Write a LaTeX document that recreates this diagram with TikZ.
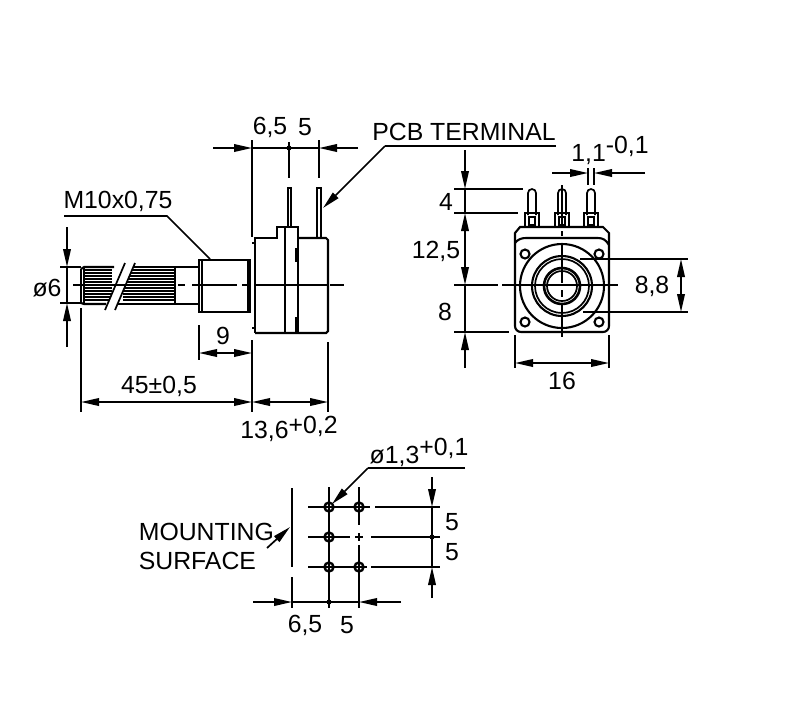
\documentclass[tikz,border=0pt]{standalone}
\usepackage{fontspec}
\setmainfont{Liberation Sans}
\usetikzlibrary{arrows.meta}
\tikzset{
  dimtext/.style={inner sep=0pt, font=\fontsize{12.4}{14.5}\selectfont},
  part/.style={line width=1.05pt},
  hatch/.style={line width=0.8pt},
  centre/.style={line width=0.95pt},
}
\begin{document}
\begin{tikzpicture}[x=0.5pt, y=-0.5pt, line width=0.85pt, >={Triangle[length=9pt,width=3.8pt]}]
\useasboundingbox (0,0) rectangle (797,720);
% side view, shaft
\foreach \yy in {270,273,...,302} {
  \draw[hatch] (84,\yy) -- (112,\yy);
  \draw[hatch] (123,\yy) -- (175,\yy);
}
\draw[part] (81,269) -- (84,267) -- (114,267);
\draw[part] (124,267) -- (199,267);
\draw[part] (81,303) -- (84,304) -- (106,304);
\draw[part] (117,304) -- (199,304);
\draw[part] (81,269) -- (81,303);
\draw[part] (84,267) -- (84,304);
\draw[part] (175,267) -- (175,304);
\draw[fill=white, draw=none] (105,310) -- (125,263) -- (135,263) -- (115,310) -- cycle;
\draw (105,310) -- (125,263);
\draw (115,310) -- (135,263);
% side view, bushing
\draw[part] (199,260) rectangle (250,312);
\draw (202,260) -- (202,312);
\draw (248,261) -- (248,312);
% side view, body
\draw[part] (252,243) -- (255,243);
\draw[part] (252,328) -- (255,328);
\draw[part] (255,333) -- (255,238) -- (277,238) -- (277,227) -- (299,227);
\draw[part] (298,238) -- (326,238) -- (328,240) -- (328,331) -- (326,333) -- (255,333);
\draw[part] (285,227) -- (285,333);
\draw[part] (298,227) -- (298,333);
\draw[part] (296,248) -- (296,262);
\draw[part] (296,317) -- (296,333);
\draw (288,227) -- (288,188) -- (291,188) -- (291,227);
\draw (317,238) -- (317,188) -- (321,188) -- (321,238);
% side view, centre line
\draw[centre] (73,285) -- (170,285);
\draw[centre] (178,285) -- (185,285);
\draw[centre] (192,285) -- (237,285);
\draw[centre] (242,285) -- (247,285);
\draw[centre] (255,285) -- (327,285);
\draw[centre] (330,285) -- (344,285);
% side view, dimensions
\draw (252,140) -- (252,237);
\draw (252,340) -- (252,412);
\draw (289,142) -- (289,178);
\draw (319,140) -- (319,178);
\draw[->] (213,148) -- (252,148);
\draw[->] (358,148) -- (319,148);
\draw (252,148) -- (319,148);
\fill (289,148) circle (2.5);
\node[dimtext] (pitchleft) at (270,127) {6,5};
\node[dimtext] (pitchright) at (305,127) {5};
\draw (60,267) -- (81,267);
\draw (60,303) -- (81,303);
\draw[->] (67,227) -- (67,267);
\draw[->] (67,347) -- (67,303);
\draw (67,267) -- (67,303);
\node[dimtext] (shaftdia) at (47,288) {ø6};
\draw (64,216) -- (167,216) -- (210,259);
\node[dimtext] (thread) at (118,201) {M10x0,75};
\draw (199,325) -- (199,360);
\draw[<->] (199,353) -- (252,353);
\node[dimtext] (bushlen) at (223,336) {9};
\draw (81,308) -- (81,412);
\draw (328,342) -- (328,412);
\draw[<->] (81,402) -- (252,402);
\draw[<->] (252,402) -- (328,402);
\node[dimtext] (shaftlen) at (159,386) {45±0,5};
\node[dimtext] (bodylen) at (289,429) {13,6\raisebox{2.5pt}{+0,2}};
% PCB terminal
\node[dimtext] (terminal) at (464,132) {PCB TERMINAL};
\draw (556,146) -- (385,146);
\draw[->] (385,146) -- (323,208);
% front view, body
\draw[part] (515,326) -- (515,233) -- (520,227) -- (603,227) -- (609,233) -- (609,326) arc (0:90:6) -- (521,332) arc (90:180:6);
\draw[part] (515,243) .. controls (518,239) and (522,238) .. (526,238) -- (598,238) .. controls (603,238) and (606,240) .. (609,245);
\foreach \xx/\yy in {525/254,599/254,525/322,599/322} {
  \draw[part] (\xx,\yy) circle (4.5);
}
\draw[part] (562,286) circle (42);
\draw[part] (562,286) circle (30);
\draw (562,286) circle (27);
\draw[line width=1.3pt] (562,286) circle (18);
\draw (562,286) circle (15);
% front view, pins
\foreach \xx in {532,562,591} {
  \draw (\xx-4,215) -- (\xx-4,193) arc (180:360:4) -- (\xx+4,215);
  \draw[part] (\xx-7,227) -- (\xx-7,213) -- (\xx+7,213) -- (\xx+7,227);
  \draw[part] (\xx-3,217) rectangle (\xx+3,225);
}
% front view, centre lines
\draw[centre] (454,285) -- (498,285);
\draw[centre] (502,285) -- (618,285);
\draw[centre] (562,185) -- (562,227);
\draw[centre] (562,231) -- (562,236);
\draw[centre] (562,243) -- (562,283);
\draw[centre] (562,290) -- (562,297);
\draw[centre] (562,303) -- (562,337);
% front view, dimensions
\draw (454,189) -- (523,189);
\draw (454,213) -- (518,213);
\draw (454,332) -- (509,332);
\draw[->] (465,150) -- (465,189);
\draw (465,189) -- (465,213);
\draw[<->] (465,213) -- (465,285);
\draw (465,285) -- (465,332);
\draw[->] (465,368) -- (465,332);
\node[dimtext] (pinlen) at (446,202) {4};
\node[dimtext] (pinheight) at (436,251) {12,5};
\node[dimtext] (lowheight) at (445,312) {8};
\draw (580,259) -- (688,259);
\draw (583,312) -- (688,312);
\draw[<->] (681,259) -- (681,312);
\node[dimtext] (nutsize) at (652,286) {8,8};
\draw (515,335) -- (515,368);
\draw (609,335) -- (609,368);
\draw[<->] (515,363) -- (609,363);
\node[dimtext] (bodywidth) at (562,381) {16};
\draw (588,168) -- (588,185);
\draw (594,168) -- (594,185);
\draw[->] (552,173) -- (588,173);
\draw[->] (645,173) -- (594,173);
\node[dimtext] (pinwidth) at (610,150) {1,1\raisebox{4pt}{-0,1}};
% hole pattern
\foreach \xx/\yy in {329/507,359/507,329/537,329/567,359/567} {
  \draw[line width=1.2pt] (\xx,\yy) circle (4.5);
}
\draw[part] (292,488) -- (292,567);
\draw[part] (292,577) -- (292,608);
\draw (308,507) -- (370,507);
\draw (375,507) -- (440,507);
\draw (308,537) -- (350,537);
\draw (355,537) -- (363,537);
\draw (371,537) -- (440,537);
\draw (308,567) -- (367,567);
\draw (371,567) -- (440,567);
\draw (329,487) -- (329,608);
\draw (359,487) -- (359,525);
\draw (359,533) -- (359,541);
\draw (359,545) -- (359,608);
\draw[->] (432,477) -- (432,507);
\draw (432,507) -- (432,567);
\draw[->] (432,598) -- (432,567);
\fill (432,537) circle (2.5);
\node[dimtext] (holepitcha) at (452,522) {5};
\node[dimtext] (holepitchb) at (452,552) {5};
\draw[->] (253,602) -- (292,602);
\draw (292,602) -- (359,602);
\draw[->] (401,602) -- (359,602);
\fill (329,602) circle (2.5);
\node[dimtext] (holerowa) at (305,625) {6,5};
\node[dimtext] (holerowb) at (347,625) {5};
\node[dimtext] (holedia) at (419,452) {ø1,3\raisebox{4pt}{+0,1}};
\draw (465,468) -- (368,468);
\draw[->] (368,468) -- (332,504);
\node[dimtext, align=left, anchor=west] (surface) at (138,546) {MOUNTING\\SURFACE};
\draw[->] (267,548) -- (290,527);
\end{tikzpicture}
\end{document}
